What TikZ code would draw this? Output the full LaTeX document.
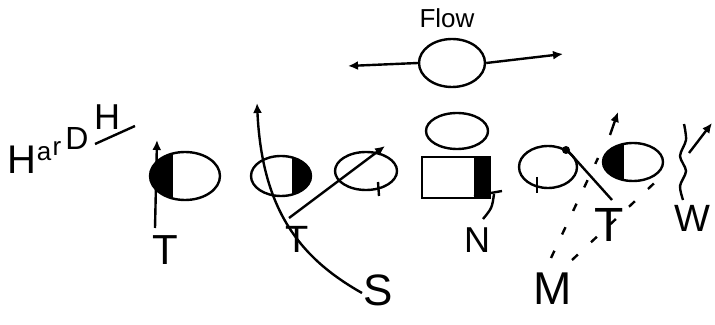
\documentclass[tikz,border=0pt]{standalone}
\usepackage{fontspec}
\setmainfont{Liberation Sans}
\usetikzlibrary{shapes.geometric,arrows.meta}
\begin{document}
\begin{tikzpicture}[x=0.5pt,y=-0.5pt,line width=1.2pt,
  player/.style={ellipse,draw,inner sep=0pt,line width=1.2pt},
  route/.style={-{Latex[length=5pt,width=4.5pt]}},
  drop/.style={dash pattern=on 4pt off 9pt},
  lbl/.style={inner sep=0pt,font=\fontsize{#1}{#1}\selectfont},
]
\useasboundingbox (0,0) rectangle (715,325);

% --- title and formation name
\node[lbl=13] (flowtxt) at (447,18) {Flow};
\node[player,minimum width=33pt,minimum height=24pt] (flow) at (452,63) {};
\coordinate (flowL) at (348,66);
\coordinate (flowR) at (563,54);
\draw[route] (flow.west) -- (flowL);
\draw[route] (flow.east) -- (flowR);

% handwritten name, letters climbing to the right
\node[lbl=20] (hardH) at (22,160) {H};
\node[lbl=13] (hardA) at (44,154) {a};
\node[lbl=13] (hardR) at (57,149) {r};
\node[lbl=16] (hardD) at (77,138) {D};
\node[lbl=18] (hh) at (107,117) {H};
\coordinate (ulA) at (95,144);
\coordinate (ulB) at (135,126);
\draw (ulA) -- (ulB);

% --- left end, shaded inside
\begin{scope}
  \clip (185,176) ellipse [x radius=35, y radius=24];
  \fill (140,140) rectangle (173,210);
\end{scope}
\node[player,minimum width=35pt,minimum height=24pt] (lend) at (185,176) {};
\coordinate (lendA) at (155,228);
\coordinate (lendB) at (157,140);
\draw[route] (lendA) -- (lendB);
\node[lbl=21] (t1) at (165,250) {T};

% --- left tackle, shaded outside
\begin{scope}
  \clip (281,176) ellipse [x radius=30, y radius=20];
  \fill (292,150) rectangle (320,200);
\end{scope}
\node[player,minimum width=30pt,minimum height=20pt] (ltk) at (281,176) {};
\node[lbl=19] (t2) at (297,239) {T};

% --- S route
\coordinate (sStart) at (362,293);
\coordinate (sEnd) at (257,103);
\draw[route] (sStart) .. controls (300,258) and (262,210) .. (sEnd);
\node[lbl=22] (s) at (378,290) {S};

% --- guard with crossing route
\node[player,minimum width=31pt,minimum height=19pt] (lg) at (366,171) {};
\coordinate (gA) at (289,218);
\coordinate (gB) at (385,146);
\draw[route] (gA) -- (gB);
\draw (378,182) -- (379,196);

% --- centre and back
\node[player,minimum width=31pt,minimum height=18pt] (qb) at (457,131) {};
\node[draw,rectangle,inner sep=0pt,minimum width=34pt,minimum height=20.5pt] (ctr) at (456,177.5) {};
\fill (474,157) rectangle (490,198);
\draw (474,196) -- (502,191);
\draw (494,194) .. controls (492,208) .. (483,219);
\node[lbl=18] (n) at (477,240) {N};

% --- right guard with slant
\node[player,minimum width=29pt,minimum height=21pt] (rg) at (548,167) {};
\fill (566,150) circle [radius=4];
\coordinate (rgA) at (568,151);
\coordinate (rgB) at (612,200);
\draw (rgA) -- (rgB);
\draw (537,177) -- (537,193);
\node[lbl=24] (t3) at (609,225) {T};

% --- linebacker drops
\coordinate (mA) at (551,258);
\coordinate (mB) at (598,158);
\coordinate (mC) at (572,260);
\coordinate (mD) at (664,174);
\draw[drop] (mA) -- (mB);
\draw[drop] (mC) -- (mD);
\node[lbl=23] (m) at (553,289) {M};

% --- right end, shaded inside
\begin{scope}
  \clip (633,162) ellipse [x radius=30, y radius=19];
  \fill (600,140) rectangle (624,185);
\end{scope}
\node[player,minimum width=30pt,minimum height=19pt] (rend) at (633,162) {};
\coordinate (reA) at (610,135);
\coordinate (reB) at (618,112);
\draw[route] (reA) -- (reB);

% --- wing
\draw plot[smooth] coordinates {(683,200) (680,186) (686,171) (680,156) (686,140) (684,124)};
\coordinate (wA) at (689,153);
\coordinate (wB) at (712,123);
\draw[route] (wA) -- (wB);
\node[lbl=19] (w) at (692,218) {W};
\end{tikzpicture}
\end{document}
